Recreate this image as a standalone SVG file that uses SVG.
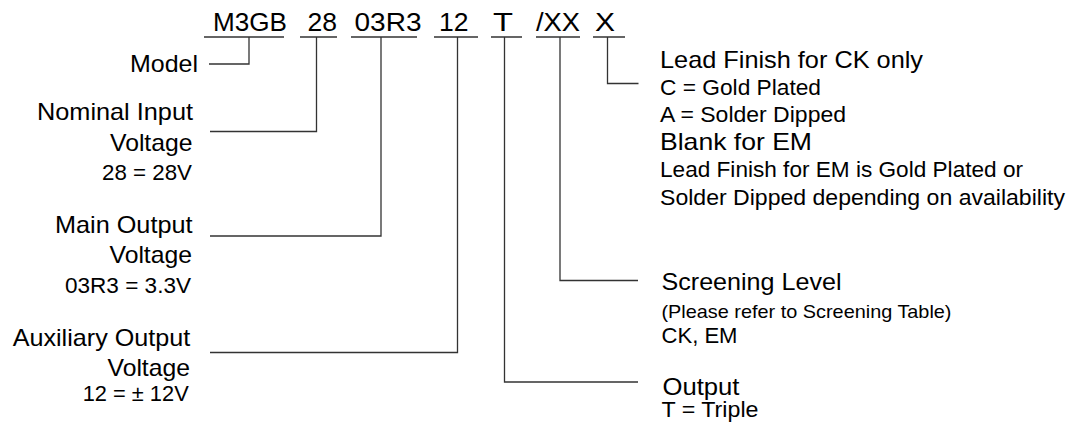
<svg xmlns="http://www.w3.org/2000/svg" width="1066" height="428" viewBox="0 0 1066 428">
<style>
text{font-family:"Liberation Sans",Arial,Helvetica,sans-serif;fill:#000}
.code{font-size:25px}
.t{font-size:24px}
.s{font-size:21.5px}
.xs{font-size:18.5px}
.ln{fill:none;stroke:#333;stroke-width:1.3}
</style>
<rect width="1066" height="428" fill="#fff"/>
<g id="code">
<g id="code-model"><text class="code" x="213" y="30.5" textLength="74" lengthAdjust="spacingAndGlyphs">M3GB</text></g>
<g id="code-input"><text class="code" x="307.5" y="30.5" textLength="29.5" lengthAdjust="spacingAndGlyphs">28</text></g>
<g id="code-main"><text class="code" x="354.5" y="30.5" textLength="67" lengthAdjust="spacingAndGlyphs">03R3</text></g>
<g id="code-aux"><text class="code" x="439" y="30.5" textLength="29.5" lengthAdjust="spacingAndGlyphs">12</text></g>
<g id="code-output"><text class="code" x="493" y="30.5" textLength="20" lengthAdjust="spacingAndGlyphs">T</text></g>
<g id="code-screening"><text class="code" x="536" y="30.5" textLength="44" lengthAdjust="spacingAndGlyphs">/XX</text></g>
<g id="code-lead"><text class="code" x="595" y="30.5" textLength="20" lengthAdjust="spacingAndGlyphs">X</text></g>
</g>
<g id="label-model">
<text class="t" x="130" y="71.5" textLength="68" lengthAdjust="spacingAndGlyphs">Model</text>
</g>
<g id="label-input">
<text class="t" x="37" y="120" textLength="156" lengthAdjust="spacingAndGlyphs">Nominal Input</text>
<text class="t" x="110" y="150.5" textLength="82.5" lengthAdjust="spacingAndGlyphs">Voltage</text>
<text class="s" x="102" y="180" textLength="90" lengthAdjust="spacingAndGlyphs">28 = 28V</text>
</g>
<g id="label-main">
<text class="t" x="55" y="232.5" textLength="137.5" lengthAdjust="spacingAndGlyphs">Main Output</text>
<text class="t" x="109.5" y="262.5" textLength="82.5" lengthAdjust="spacingAndGlyphs">Voltage</text>
<text class="s" x="65" y="292.5" textLength="126" lengthAdjust="spacingAndGlyphs">03R3 = 3.3V</text>
</g>
<g id="label-aux">
<text class="t" x="12.7" y="346" textLength="177.5" lengthAdjust="spacingAndGlyphs">Auxiliary Output</text>
<text class="t" x="107.5" y="376" textLength="82.5" lengthAdjust="spacingAndGlyphs">Voltage</text>
<text class="s" x="82.7" y="401" textLength="106" lengthAdjust="spacingAndGlyphs">12 = ± 12V</text>
</g>
<g id="label-lead">
<text class="t" x="660" y="67.5" textLength="263" lengthAdjust="spacingAndGlyphs">Lead Finish for CK only</text>
<text class="s" x="660" y="94.5" textLength="161" lengthAdjust="spacingAndGlyphs">C = Gold Plated</text>
<text class="s" x="660" y="122" textLength="186" lengthAdjust="spacingAndGlyphs">A = Solder Dipped</text>
<text class="t" x="660" y="149.5" textLength="152" lengthAdjust="spacingAndGlyphs">Blank for EM</text>
<text class="s" x="660" y="177" textLength="363" lengthAdjust="spacingAndGlyphs">Lead Finish for EM is Gold Plated or</text>
<text class="s" x="660" y="204.5" textLength="405" lengthAdjust="spacingAndGlyphs">Solder Dipped depending on availability</text>
</g>
<g id="label-screening">
<text class="t" x="661.5" y="290" textLength="180" lengthAdjust="spacingAndGlyphs">Screening Level</text>
<text class="xs" x="661.5" y="317.5" textLength="290" lengthAdjust="spacingAndGlyphs">(Please refer to Screening Table)</text>
<text class="s" x="661.5" y="343" textLength="76" lengthAdjust="spacingAndGlyphs">CK, EM</text>
</g>
<g id="label-output">
<text class="t" x="662.5" y="394.5" textLength="77" lengthAdjust="spacingAndGlyphs">Output</text>
<text class="s" x="661.5" y="417" textLength="97" lengthAdjust="spacingAndGlyphs">T = Triple</text>
</g>
<g id="connectors" class="ln">
<path class="ln" d="M204,37H284M249,37V64H209"/>
<path class="ln" d="M300,37H337M316.5,37V131.5H210"/>
<path class="ln" d="M351,37H417M381,37V236H210"/>
<path class="ln" d="M434,37H478M457.5,37V352.5H210"/>
<path class="ln" d="M491,37H522M504.5,37V382H638"/>
<path class="ln" d="M536,37H580M560,37V280.5H638"/>
<path class="ln" d="M593,37H625M607.5,37V83.5H638.5"/>
</g>
</svg>
